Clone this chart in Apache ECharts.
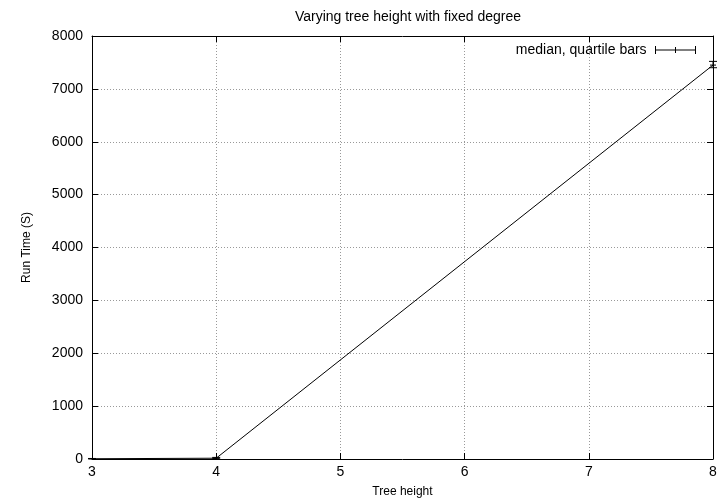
<!DOCTYPE html>
<html><head><meta charset="utf-8">
<script src="https://cdn.jsdelivr.net/npm/echarts@6/dist/echarts.min.js"></script>
<style>html,body{margin:0;padding:0;background:#fff}#c{width:723px;height:503px}</style>
</head><body><div id="c"></div>
<script>
const heights = [3, 4, 8];
const medians = [5, 15, 7450];
const q1 = [2, 5, 7400];
const q3 = [10, 30, 7520];
const seriesName = 'median, quartile bars';

const chart = echarts.init(document.getElementById('c'));
const font = 'Liberation Sans, Arial, sans-serif';
const grid = {left: 92, right: 10, top: 36, bottom: 44};
const gridLine = {show: true, lineStyle: {color: '#999', type: [1, 2], width: 1}};
chart.setOption({
  animation: false,
  title: {text: 'Varying tree height with fixed degree', left: 403, textAlign: 'center', top: 5,
    textStyle: {fontFamily: font, fontSize: 14, fontWeight: 'normal', color: '#000'}},
  legend: {data: [{name: seriesName, icon: 'path://M0,0V8M0,4H40M40,0V8M20,1V7',
      itemStyle: {color: 'none', borderColor: '#000', borderWidth: 1}}],
    formatter: n => n + ' ',
    right: 20, top: 38, itemWidth: 40, itemHeight: 8, align: 'right', itemGap: 5,
    textStyle: {fontFamily: font, fontSize: 14, color: '#000'}, inactiveColor: '#000'},
  grid: grid,
  xAxis: [{type: 'value', min: 3, max: 8, interval: 1, name: 'Tree height', nameLocation: 'middle', nameGap: 27,
    nameTextStyle: {fontFamily: font, fontSize: 12, color: '#000'},
    axisLine: {show: true, lineStyle: {color: '#000', width: 1}},
    axisTick: {show: true, inside: true, length: 6, lineStyle: {color: '#000'}},
    axisLabel: {fontFamily: font, fontSize: 14, color: '#000', margin: 6},
    splitLine: gridLine},
    {type: 'value', position: 'top', min: 3, max: 8, interval: 1,
    axisLine: {show: true, onZero: false, lineStyle: {color: '#000'}},
    axisTick: {show: true, inside: true, length: 6, lineStyle: {color: '#000'}},
    axisLabel: {show: false}, splitLine: {show: false}}],
  yAxis: [{type: 'value', min: 0, max: 8000, interval: 1000, name: 'Run Time (S)', nameLocation: 'middle', nameGap: 59,
    nameTextStyle: {fontFamily: font, fontSize: 12, color: '#000'},
    axisLine: {show: true, lineStyle: {color: '#000', width: 1}},
    axisTick: {show: true, inside: true, length: 6, lineStyle: {color: '#000'}},
    axisLabel: {fontFamily: font, fontSize: 14, color: '#000', margin: 9, formatter: v => String(v)},
    splitLine: gridLine},
    {type: 'value', position: 'right', min: 0, max: 8000, interval: 1000,
    axisLine: {show: true, onZero: false, lineStyle: {color: '#000'}},
    axisTick: {show: true, inside: true, length: 6, lineStyle: {color: '#000'}},
    axisLabel: {show: false}, splitLine: {show: false}}],
  series: [
    {name: seriesName, type: 'line', data: heights.map((h, i) => [h, medians[i]]),
     showSymbol: false, symbol: 'none', lineStyle: {color: '#000', width: 1}, itemStyle: {color: '#000'}, z: 3},
    {name: seriesName, type: 'custom', data: heights.map((h, i) => [h, q1[i], q3[i], medians[i]]),
     renderItem: function (params, api) {
       const lo = api.coord([api.value(0), api.value(1)]);
       const hi = api.coord([api.value(0), api.value(2)]);
       const md = api.coord([api.value(0), api.value(3)]);
       const w = 4;
       const st = {stroke: '#000', lineWidth: 1};
       return {type: 'group', children: [
         {type: 'line', shape: {x1: lo[0], y1: lo[1], x2: hi[0], y2: hi[1]}, style: st},
         {type: 'line', shape: {x1: lo[0]-w, y1: lo[1], x2: lo[0]+w, y2: lo[1]}, style: st},
         {type: 'line', shape: {x1: hi[0]-w, y1: hi[1], x2: hi[0]+w, y2: hi[1]}, style: st},
         {type: 'line', shape: {x1: md[0]-3, y1: md[1], x2: md[0]+3, y2: md[1]}, style: st}
       ]};
     }, z: 4}
  ]
});
</script></body></html>
